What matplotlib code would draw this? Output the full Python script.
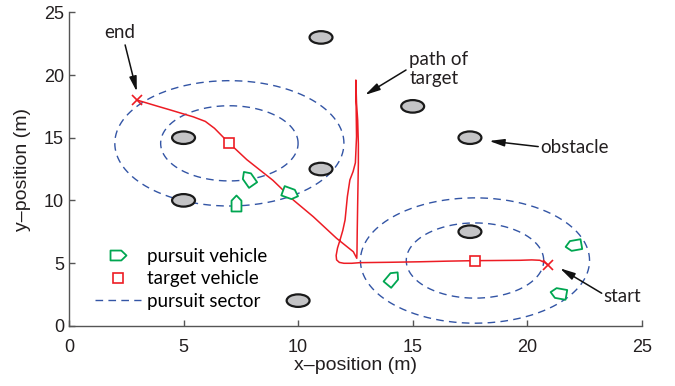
import numpy as np
import matplotlib
matplotlib.use("Agg")
import matplotlib.pyplot as plt
from matplotlib.markers import MarkerStyle
from matplotlib.path import Path
from matplotlib.transforms import Affine2D
from matplotlib.patches import Circle

# Obstacles (circle centres, radius in m)
obstacle_x = [11.0, 5.0, 11.0, 5.0, 10.0, 15.0, 17.5, 17.5]
obstacle_y = [23.0, 15.0, 12.5, 10.0, 2.0, 17.5, 15.0, 7.5]
obstacle_r = 0.5

# Target path, start -> end
path_x = [20.92, 20.75, 20.55, 20.2, 19.7, 18.5, 17.72, 16.5, 15.3, 14.0, 12.7, 12.34,
          12.0, 11.8, 11.68, 11.66, 11.72, 11.83, 11.95, 12.05, 12.15, 12.26, 12.40,
          12.50, 12.55, 12.53, 12.52, 12.55, 12.60, 12.63, 12.63, 12.60, 12.58, 12.57,
          12.56, 12.41, 11.68, 10.66, 9.79, 8.9, 7.76, 7.0, 6.7, 6.35, 5.95, 5.43, 4.99,
          4.41, 3.83, 3.10, 2.98]
path_y = [4.84, 5.05, 5.22, 5.25, 5.22, 5.2, 5.19, 5.15, 5.1, 5.06, 5.03, 4.98,
          4.98, 5.05, 5.25, 5.6, 6.2, 6.84, 7.6, 8.44, 10.3, 11.63, 12.3,
          13.0, 15.08, 17.75, 19.6, 17.75, 16.4, 14.5, 12.96, 9.77, 7.5, 5.9,
          5.38, 5.9, 6.97, 8.7, 10.03, 11.6, 13.25, 14.55, 15.1, 15.75, 16.3, 16.66, 16.9,
          17.22, 17.53, 17.93, 18.0]

# Target snapshots and the pursuit sectors around them
target_x = [7.0, 17.72]
target_y = [14.55, 5.2]
sector_radii = [3.0, 5.0]

start_xy = (20.92, 4.84)
end_xy = (2.98, 18.0)

# Pursuit vehicles: position and heading (deg)
pursuer_x = [7.83, 9.65, 7.28, 14.08, 21.98, 21.35]
pursuer_y = [11.76, 10.57, 9.77, 3.78, 6.44, 2.58]
pursuer_heading = [125, -20, 90, 50, 190, 170]

red = '#ed1c24'
green = '#00a651'
blue = '#3355a5'

# boat-shaped marker pointing along +x
boat = Path([(-1.0, -0.62), (0.35, -0.62), (1.0, 0.0), (0.35, 0.62), (-1.0, 0.62), (-1.0, -0.62)],
            [Path.MOVETO, Path.LINETO, Path.LINETO, Path.LINETO, Path.LINETO, Path.CLOSEPOLY])

def boat_marker(angle):
    return MarkerStyle(boat, transform=Affine2D().rotate_deg(angle))

fig = plt.figure(figsize=(6.75, 3.86), dpi=100)
ax = fig.add_axes([0.1022, 0.1562, 0.8486, 0.8118])

# obstacles
for ox, oy in zip(obstacle_x, obstacle_y):
    ax.add_patch(Circle((ox, oy), obstacle_r, facecolor='#c4c4c6', edgecolor='#1a1a1a',
                        lw=1.6, zorder=3))

# pursuit sectors
t = np.linspace(0, 2 * np.pi, 400)
first = True
for tx, ty in zip(target_x, target_y):
    for r in sector_radii:
        ax.plot(tx + r * np.cos(t), ty + r * np.sin(t), color=blue, lw=1.0,
                ls=(0, (5.5, 3.8)), zorder=2, label='pursuit sector' if first else None)
        first = False

# target path
ax.plot(path_x, path_y, color=red, lw=1.1, zorder=4, solid_joinstyle='round')
ax.plot(target_x, target_y, ls='none', marker='s', ms=7, mfc='white', mec=red, mew=1.2,
        zorder=5, label='target vehicle')
ax.plot(*zip(start_xy, end_xy), ls='none', marker='x', ms=6.5, mec=red, mew=1.2, zorder=5)

# pursuit vehicles
for px, py, hd in zip(pursuer_x, pursuer_y, pursuer_heading):
    ax.plot(px, py, ls='none', marker=boat_marker(hd), ms=11.5, mfc='white', mec=green,
            mew=1.3, zorder=6)
ax.plot([], [], ls='none', marker=boat_marker(0), ms=11.5, mfc='white', mec=green, mew=1.3,
        label='pursuit vehicle')

# annotations
note_font = dict(family='Lato', fontsize=13.5, color='#231f20')
arrow = dict(arrowstyle='-|>,head_width=0.22,head_length=0.9', color='#111111', lw=1.1,
             shrinkA=0, shrinkB=0)
ax.text(2.22, 23.4, 'end', ha='center', va='center', **note_font)
ax.annotate('', xy=(2.96, 18.67), xytext=(2.45, 22.4), arrowprops=arrow)
ax.annotate('', xy=(12.92, 18.41), xytext=(14.71, 20.4), arrowprops=arrow)
ax.text(14.85, 20.5, 'path of\ntarget', ha='left', va='center', linespacing=1.15, **note_font)
ax.annotate('', xy=(18.34, 14.74), xytext=(20.48, 14.29), arrowprops=arrow)
ax.text(20.58, 14.2, 'obstacle', ha='left', va='center', **note_font)
ax.annotate('', xy=(21.43, 4.58), xytext=(23.25, 2.59), arrowprops=arrow)
ax.text(23.32, 2.3, 'start', ha='left', va='center', **note_font)

handles, labels = ax.get_legend_handles_labels()
order = [labels.index(k) for k in ['pursuit vehicle', 'target vehicle', 'pursuit sector']]
ax.legend([handles[i] for i in order], [labels[i] for i in order], loc='lower left',
          bbox_to_anchor=(0.045, 0.05), frameon=False, borderpad=0, borderaxespad=0,
          handlelength=2.45, handletextpad=0.35, labelspacing=0.3,
          prop=dict(family='Lato', size=13.5))

ax.set_xlim(0, 25)
ax.set_ylim(0, 25)
ax.set_xticks(np.arange(0, 26, 5))
ax.set_yticks(np.arange(0, 26, 5))
for s in ['top', 'right']:
    ax.spines[s].set_visible(False)
for s in ['left', 'bottom']:
    ax.spines[s].set_color('#555555')
    ax.spines[s].set_linewidth(1.0)
ax.tick_params(direction='in', length=4, width=1.0, color='#555555', labelsize=13,
               labelcolor='#231f20')
ax.tick_params(axis='x', pad=9.5)
ax.tick_params(axis='y', pad=3.5)
for lbl in ax.get_xticklabels() + ax.get_yticklabels():
    lbl.set_family('Liberation Sans')
ax.set_xlabel('x\u2013position (m)', family='Liberation Sans', fontsize=14, color='#231f20',
              labelpad=1)
ax.set_ylabel('y\u2013position (m)', family='Liberation Sans', fontsize=14, color='#231f20',
              labelpad=9)

fig.savefig('out.png', dpi=100)
